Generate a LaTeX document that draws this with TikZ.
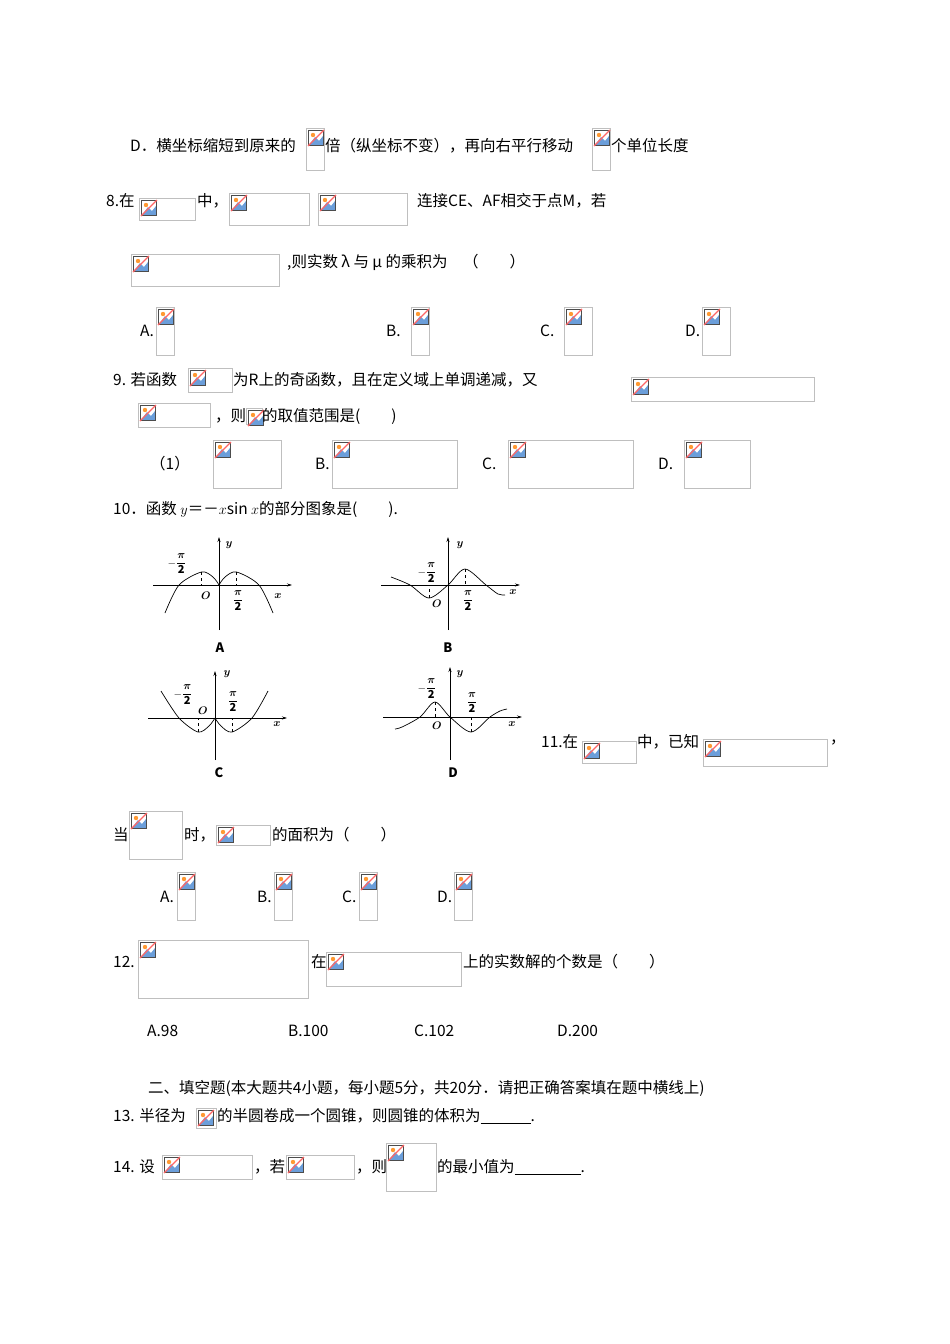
\documentclass[tikz,border=0pt]{standalone}
\usepackage{amsmath}
\usepackage{fontspec}
\setmainfont{Noto Sans CJK SC}
\usetikzlibrary{arrows.meta}
\newcommand\imgbox[5]{%
 \node[draw=black!25,line width=0.8pt,minimum width=#4pt,minimum height=#5pt,inner sep=0,anchor=north west] (#1) at (#2,#3) {};
 \begin{scope}[shift={(#2+2,#3+2)}]
  \fill[white] (0,0) rectangle (16,16);
  \fill[cyan!55!blue!60] (1,15) -- (7,7) -- (11,11) -- (15,6) -- (15,15) -- cycle;
  \fill[orange!80] (5,5) circle (2.2);
  \draw[black!70,line width=0.7pt] (0.5,0.5) rectangle (15.5,15.5);
  \draw[red!60,line width=1.2pt] (16,0) -- (0,16);
 \end{scope}}
\newcommand\tx[4]{\node[anchor=west,inner sep=0,font=\fontsize{15.5}{17}\selectfont] (#1) at (#2,#3) {#4};}
\newcommand\hp{\dfrac{\boldsymbol{\pi}}{\mathbf{2}}}
\tikzset{axis/.style={-{Stealth[length=5pt,width=3pt]},line width=0.6pt},
 crv/.style={line width=0.7pt},
 dsh/.style={dashed,line width=0.5pt},
 glab/.style={inner sep=0,font=\fontsize{11}{11}\selectfont},
 capl/.style={inner sep=0,font=\bfseries\fontsize{13}{13}\selectfont}}
\begin{document}
\begin{tikzpicture}[x=1pt,y=-1pt]
\useasboundingbox (0,0) rectangle (950,1344);
% D line
\tx{d1}{130}{146}{D．横坐标缩短到原来的}
\imgbox{i1}{306}{128}{18}{42}
\tx{d2}{325}{146}{倍（纵坐标不变），再向右平行移动}
\imgbox{i2}{592}{128}{18}{42}
\tx{d3}{611}{146}{个单位长度}
% 8
\tx{q8}{106}{201}{8.在}
\imgbox{i3}{139}{198}{56}{22}
\tx{q8b}{197}{201}{中，}
\imgbox{i4}{229}{193}{80}{32}
\imgbox{i5}{318}{193}{89}{32}
\tx{q8c}{417}{201}{连接CE、AF相交于点M，若}
\imgbox{i6}{131}{254}{148}{32}
\tx{q8d}{287}{262}{,则实数 λ 与 μ 的乘积为　（　　）}
\tx{o8a}{140}{331}{A.}\imgbox{i7}{156}{307}{18}{48}
\tx{o8b}{386}{331}{B.}\imgbox{i8}{411}{307}{18}{48}
\tx{o8c}{540}{331}{C.}\imgbox{i9}{564}{307}{28}{48}
\tx{o8d}{685}{331}{D.}\imgbox{i10}{702}{307}{28}{48}
% 9
\tx{q9}{113}{380}{9. 若函数}
\imgbox{i11}{188}{368}{44}{24}
\tx{q9b}{233}{380}{为R上的奇函数，且在定义域上单调递减，又}
\imgbox{i12}{631}{377}{183}{24}
\imgbox{i13}{138}{403}{72}{24}
\tx{q9c}{215}{416}{，则}
\imgbox{i14}{246}{408}{16}{16}
\tx{q9d}{262}{416}{的取值范围是(　　)}
\tx{o9a}{150}{464}{（1）}\imgbox{i15}{213}{440}{68}{48}
\tx{o9b}{315}{464}{B.}\imgbox{i16}{332}{440}{125}{48}
\tx{o9c}{482}{464}{C.}\imgbox{i17}{508}{440}{125}{48}
\tx{o9d}{658}{464}{D.}\imgbox{i18}{684}{440}{66}{48}
% 10
\tx{q10}{113}{509}{10．函数 $y$＝－$x$sin $x$的部分图象是(　　).}
% graph A
\begin{scope}[shift={(219,585)},yscale=-1]
 \draw[axis] (-66,0) -- (73,0);
 \draw[axis] (0,-45) -- (0,48);
 \draw[crv] plot[smooth] coordinates {(-54,-28)(-40,0)(-17.5,13)(-6,8)(0,0)};
 \draw[crv] plot[smooth] coordinates {(54,-28)(40,0)(17.5,13)(6,8)(0,0)};
 \draw[dsh] (-17.5,13) -- (-17.5,0); \draw[dsh] (17.5,13) -- (17.5,0);
\end{scope}
\node[glab] (a1) at (177,564) {$-\hp$};
\node[glab] (a2) at (206,596) {$\boldsymbol{O}$};
\node[glab] (a3) at (238,601) {$\hp$};
\node[glab] (a4) at (278,596) {$\boldsymbol{x}$};
\node[glab] (a5) at (229,545) {$\boldsymbol{y}$};
\node[capl] (ca) at (220,648) {A};
% graph B
\begin{scope}[shift={(448,585)},yscale=-1]
 \draw[axis] (-67,0) -- (72,0);
 \draw[axis] (0,-45) -- (0,48);
 \draw[crv] plot[smooth] coordinates {(-57,8)(-38,0)(-19,-13)(0,0)(17,16)(38,0)(50,-9)(57,-10)};
 \draw[dsh] (-19,-13) -- (-19,0); \draw[dsh] (17,16) -- (17,0);
\end{scope}
\node[glab] (b1) at (427,573) {$-\hp$};
\node[glab] (b2) at (437,604) {$\boldsymbol{O}$};
\node[glab] (b3) at (468,601) {$\hp$};
\node[glab] (b4) at (513,592) {$\boldsymbol{x}$};
\node[glab] (b5) at (460,545) {$\boldsymbol{y}$};
\node[capl] (cb) at (448,648) {B};
% graph C
\begin{scope}[shift={(215,718)},yscale=-1]
 \draw[axis] (-67,0) -- (72,0);
 \draw[axis] (0,-42) -- (0,47);
 \draw[crv] plot[smooth] coordinates {(-54,27)(-36,0)(-17,-14)(-6,-8)(0,0)};
 \draw[crv] plot[smooth] coordinates {(53,27)(37,0)(17,-14)(6,-8)(0,0)};
 \draw[dsh] (-17,-14) -- (-17,0); \draw[dsh] (17,-14) -- (17,0);
\end{scope}
\node[glab] (c1) at (183,695) {$-\hp$};
\node[glab] (c2) at (203,711) {$\boldsymbol{O}$};
\node[glab] (c3) at (233,702) {$\hp$};
\node[glab] (c4) at (277,724) {$\boldsymbol{x}$};
\node[glab] (c5) at (227,674) {$\boldsymbol{y}$};
\node[capl] (cc) at (219,773) {C};
% graph D
\begin{scope}[shift={(450,717)},yscale=-1]
 \draw[axis] (-67,0) -- (72,0);
 \draw[axis] (0,-43) -- (0,50);
 \draw[crv] plot[smooth] coordinates {(-55,-12)(-48,-10)(-30,0)(-15,15)(0,0)(21,-15)(40,0)(50,6)(57,8)};
 \draw[dsh] (-15,15) -- (-15,0); \draw[dsh] (21,-15) -- (21,0);
\end{scope}
\node[glab] (d1g) at (427,689) {$-\hp$};
\node[glab] (d2g) at (437,726) {$\boldsymbol{O}$};
\node[glab] (d3g) at (472,703) {$\hp$};
\node[glab] (d4g) at (512,724) {$\boldsymbol{x}$};
\node[glab] (d5g) at (460,674) {$\boldsymbol{y}$};
\node[capl] (cd) at (453,773) {D};
% 11
\tx{q11}{541}{742}{11.在}
\imgbox{i19}{582}{741}{54}{22}
\tx{q11b}{637}{742}{中，已知}
\imgbox{i20}{703}{739}{124}{27}
\tx{q11c}{830}{742}{，}
\tx{q11d}{113}{835}{当}
\imgbox{i21}{129}{811}{53}{48}
\tx{q11e}{184}{835}{时，}
\imgbox{i22}{216}{825}{54}{20}
\tx{q11f}{272}{835}{的面积为（　　）}
\tx{o11a}{160}{897}{A.}\imgbox{i23}{177}{872}{18}{48}
\tx{o11b}{257}{897}{B.}\imgbox{i24}{274}{872}{18}{48}
\tx{o11c}{342}{897}{C.}\imgbox{i25}{359}{872}{18}{48}
\tx{o11d}{437}{897}{D.}\imgbox{i26}{454}{872}{18}{48}
% 12
\tx{q12}{113}{962}{12.}
\imgbox{i27}{138}{940}{170}{58}
\tx{q12b}{311}{962}{在}
\imgbox{i28}{326}{952}{135}{34}
\tx{q12c}{463}{962}{上的实数解的个数是（　　）}
\tx{o12a}{147}{1031}{A.98}
\tx{o12b}{288}{1031}{B.100}
\tx{o12c}{414}{1031}{C.102}
\tx{o12d}{557}{1031}{D.200}
% section
\tx{sec}{148}{1088}{二、填空题(本大题共4小题，每小题5分，共20分．请把正确答案填在题中横线上)}
\tx{q13}{113}{1116}{13. 半径为}
\imgbox{i29}{196}{1108}{20}{20}
\tx{q13b}{217}{1116}{的半圆卷成一个圆锥，则圆锥的体积为\rule[-2pt]{50pt}{0.6pt}.}
\tx{q14}{113}{1167}{14. 设}
\imgbox{i30}{162}{1155}{90}{24}
\tx{q14b}{254}{1167}{，若}
\imgbox{i31}{286}{1155}{68}{24}
\tx{q14c}{356}{1167}{，则}
\imgbox{i32}{386}{1143}{50}{48}
\tx{q14d}{437}{1167}{的最小值为\rule[-2pt]{66pt}{0.6pt}.}
\end{tikzpicture}
\end{document}
